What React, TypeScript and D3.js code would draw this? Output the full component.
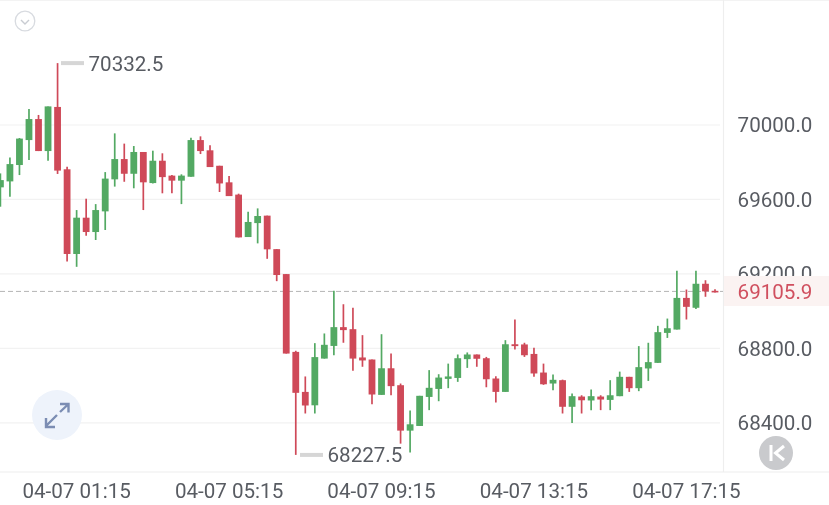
import React from "react";
import * as d3 from "d3";

const opens = [69665,69697,69785,69919,70032,69860,70097,69762,69307,69502,69425,69536,69708,69817,69738,69855,69688,69808,69728,69701,69722,69919,69864,69781,69692,69626,69398,69473,69513,69333,69199,68781,68566,68494,68745,68813,68914,68903,68751,68740,68550,68693,68602,68358,68383,68539,68582,68636,68641,68742,68767,68747,68638,68566,68822,68821,68770,68670,68611,68629,68486,68541,68520,68541,68523,68543,68647,68586,68692,68722,68883,68901,69071,69018,69147,69109];
const closes = [69704,69790,69927,70032,69860,70100,69755,69307,69502,69425,69543,69712,69817,69738,69855,69692,69808,69720,69701,69728,69919,69860,69774,69686,69618,69396,69479,69511,69332,69194,68772,68561,68493,68753,68819,68914,68898,68745,68735,68552,68693,68597,68358,68392,68545,68588,68643,68649,68747,68767,68744,68634,68566,68822,68812,68763,68665,68607,68631,68486,68543,68521,68543,68525,68548,68647,68586,68699,68726,68887,68908,69071,69023,69147,69106,69105.9];
const highs = [69740,69826,69930,70086,70054,70100,70332.5,69776,69543,69604,69575,69747,69955,69900,69887,69855,69862,69848,69731,69735,69932,69939,69891,69781,69726,69631,69534,69552,69513,69333,69199,68787,68649,68828,68880,69109,69037,69018,68871,68740,68876,68772,68611,68466,68545,68683,68661,68718,68767,68778,68767,68754,68650,68844,68955,68830,68803,68718,68659,68632,68557,68548,68579,68548,68629,68675,68647,68812,68830,68921,68960,69217,69116,69217,69166,69118];
const lows = [69561,69615,69731,69812,69860,69808,69737,69267,69238,69405,69382,69436,69669,69695,69660,69543,69686,69633,69633,69575,69722,69844,69774,69640,69618,69396,69398,69364,69281,69161,68772,68227.5,68450,68450,68745,68763,68830,68679,68701,68500,68550,68548,68288,68240,68383,68468,68516,68586,68620,68695,68701,68591,68509,68566,68794,68754,68647,68604,68575,68450,68399,68450,68468,68468,68468,68543,68566,68570,68625,68722,68856,68901,68955,69012,69077,69100];
const priceTicks = [70000, 69600, 69200, 68800, 68400];
const timeTicks: [number, string][] = [[8,"04-07 01:15"],[24,"04-07 05:15"],[40,"04-07 09:15"],[56,"04-07 13:15"],[72,"04-07 17:15"]];
const maxPrice = 70332.5;
const minPrice = 68227.5;
const lastPrice = 69105.9;

const RED = "#cf4a59";
const GREEN = "#53a963";
const TEXT = "#585b62";
const FONT = "Roboto, 'Noto Sans', sans-serif";
const FS = 20.6;

const x = d3.scaleLinear().domain([0, 75]).range([0.4, 715]);
const y = d3.scaleLinear().domain([68400, 70000]).range([422.8, 125]);
const BODY = 6.8;

export default function App() {
  return (
    <svg width={829} height={505} style={{ position: "fixed", left: 0, top: 0, background: "#fff" }}>
      <defs>
        <filter id="soft" x="-5%" y="-5%" width="110%" height="110%">
          <feGaussianBlur stdDeviation="0.45" />
        </filter>
      </defs>
      <g filter="url(#soft)">
        <line x1={0} x2={829} y1={0.5} y2={0.5} stroke="#f3f3f3" />
        {priceTicks.map(t => (
          <line key={t} x1={0} x2={720} y1={y(t)} y2={y(t)} stroke="#f2f2f2" strokeWidth={1.2} />
        ))}
        <line x1={723.5} x2={723.5} y1={0} y2={472} stroke="#eeeeee" strokeWidth={1.2} />
        <line x1={0} x2={829} y1={472} y2={472} stroke="#eeeeee" strokeWidth={1.2} />

        {priceTicks.map(t => (
          <text key={t} x={775} y={y(t)} dy="0.36em" fontFamily={FONT} fontSize={FS} textAnchor="middle" fill={TEXT}>
            {t.toFixed(1)}
          </text>
        ))}
        <rect x={724} y={276} width={105} height={30} fill="#fbf3f2" />
        <line x1={0} x2={723} y1={y(lastPrice)} y2={y(lastPrice)} stroke="#b5b5b5" strokeWidth={1} strokeDasharray="5 3" />
        <text x={775} y={y(lastPrice)} dy="0.36em" fontFamily={FONT} fontSize={FS} textAnchor="middle" fill="#d0505f">
          {lastPrice.toFixed(1)}
        </text>

        {opens.map((o, i) => {
          const c = closes[i];
          const col = c >= o ? GREEN : RED;
          const top = y(Math.max(o, c));
          const h = Math.max(Math.abs(y(o) - y(c)), 1.6);
          return (
            <g key={i}>
              <line x1={x(i)} x2={x(i)} y1={y(highs[i])} y2={y(lows[i])} stroke={col} strokeWidth={1.7} />
              <rect x={x(i) - BODY / 2} y={top} width={BODY} height={h} fill={col} />
            </g>
          );
        })}

        <line x1={61} x2={84} y1={y(maxPrice)} y2={y(maxPrice)} stroke="#d6d6d6" strokeWidth={4} />
        <text x={88.5} y={y(maxPrice)} dy="0.36em" fontFamily={FONT} fontSize={FS} fill={TEXT}>{maxPrice.toFixed(1)}</text>
        <line x1={300} x2={323} y1={y(minPrice)} y2={y(minPrice)} stroke="#d6d6d6" strokeWidth={4} />
        <text x={327.5} y={y(minPrice)} dy="0.36em" fontFamily={FONT} fontSize={FS} fill={TEXT}>{minPrice.toFixed(1)}</text>

        {timeTicks.map(([i, label]) => (
          <text key={label} x={x(i)} y={491} dy="0.36em" fontFamily={FONT} fontSize={FS} textAnchor="middle" fill={TEXT}>
            {label}
          </text>
        ))}

        <circle cx={25} cy={21} r={9.8} fill="none" stroke="#d8dbe0" strokeWidth={1.3} />
        <path d="M21 20 L25 24 L29 20" fill="none" stroke="#c9ccd2" strokeWidth={1.4} />

        <circle cx={57} cy={415} r={25} fill="#eef3fb" />
        <g fill="none" stroke="#7b8db3" strokeWidth={2.4}>
          <path d="M57 415 L46.5 425.5 M46 418 V427 H55" />
          <path d="M60 412 L68.5 404 M60 404 H68.5 V412.5" />
        </g>

        <circle cx={776} cy={453} r={17} fill="#c9cacd" />
        <path d="M771 445 V461" stroke="#fff" strokeWidth={3} fill="none" />
        <path d="M784 446 L775.5 453 L784 460" stroke="#fff" strokeWidth={3} fill="none" />
      </g>
    </svg>
  );
}
